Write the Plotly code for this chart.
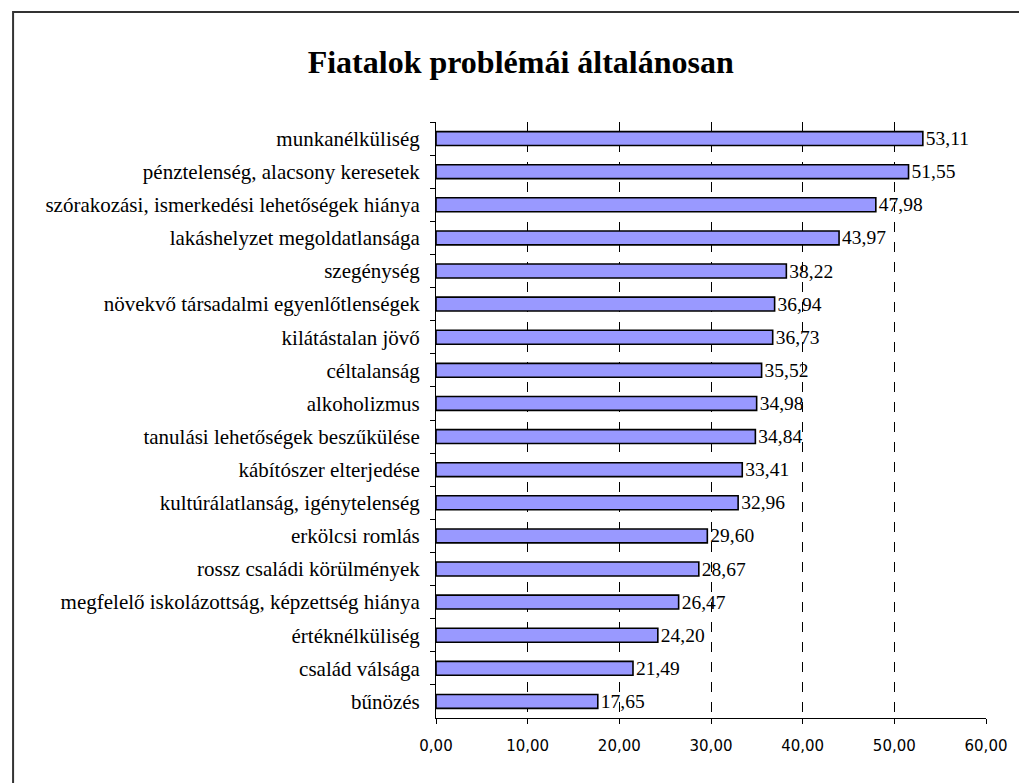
import plotly.graph_objects as go

categories = [
    "munkanélküliség",
    "pénztelenség, alacsony keresetek",
    "szórakozási, ismerkedési lehetőségek hiánya",
    "lakáshelyzet megoldatlansága",
    "szegénység",
    "növekvő társadalmi egyenlőtlenségek",
    "kilátástalan jövő",
    "céltalanság",
    "alkoholizmus",
    "tanulási lehetőségek beszűkülése",
    "kábítószer elterjedése",
    "kultúrálatlanság, igénytelenség",
    "erkölcsi romlás",
    "rossz családi körülmények",
    "megfelelő iskolázottság, képzettség hiánya",
    "értéknélküliség",
    "család válsága",
    "bűnözés",
]
values = [53.11, 51.55, 47.98, 43.97, 38.22, 36.94, 36.73, 35.52, 34.98,
          34.84, 33.41, 32.96, 29.60, 28.67, 26.47, 24.20, 21.49, 17.65]
tick_vals = [0, 10, 20, 30, 40, 50, 60]
tick_text = ["0,00", "10,00", "20,00", "30,00", "40,00", "50,00", "60,00"]
title = "Fiatalok problémái általánosan"

labels = [f"{v:.2f}".replace(".", ",") for v in values]

serif = "Liberation Serif, Times New Roman, serif"

fig = go.Figure(go.Bar(
    x=values, y=categories, orientation="h",
    marker=dict(color="#9999FF", line=dict(color="black", width=1.6)),
    text=labels, textposition="outside", cliponaxis=False, constraintext="none",
    textfont=dict(family=serif, size=19.5, color="black"),
))

fig.update_layout(
    width=1019, height=783,
    paper_bgcolor="white", plot_bgcolor="white",
    margin=dict(l=436, r=29, t=122, b=65),
    bargap=0.58,
    showlegend=False,
    title=dict(text="<b>" + title + "</b>", x=0.511, xanchor="center", y=0.921, yanchor="middle",
               font=dict(family=serif, size=32, color="black")),
    xaxis=dict(range=[0, 60], tickvals=tick_vals, ticktext=tick_text,
               showgrid=True, gridcolor="black", gridwidth=1, griddash="10px,10px",
               showline=True, linecolor="black", linewidth=1,
               ticks="outside", ticklen=5, tickcolor="black", ticklabelstandoff=9,
               tickfont=dict(family="DejaVu Sans, sans-serif", size=15, color="black"),
               zeroline=False, fixedrange=True),
    yaxis=dict(autorange="reversed", showline=True, linecolor="black", linewidth=1,
               ticks="outside", ticklen=5, tickcolor="black", tickson="boundaries",
               tickfont=dict(family=serif, size=21, color="black"),
               showgrid=False, ticklabelstandoff=11, fixedrange=True),
    shapes=[dict(type="rect", xref="paper", yref="paper",
                 x0=-426/554, x1=1.2, y0=-0.3, y1=1 + 110/596,
                 line=dict(color="#333333", width=2), fillcolor="rgba(0,0,0,0)")],
)

fig.write_html("out.html", config={"displayModeBar": False},
               post_script="document.body.style.margin='0';")
